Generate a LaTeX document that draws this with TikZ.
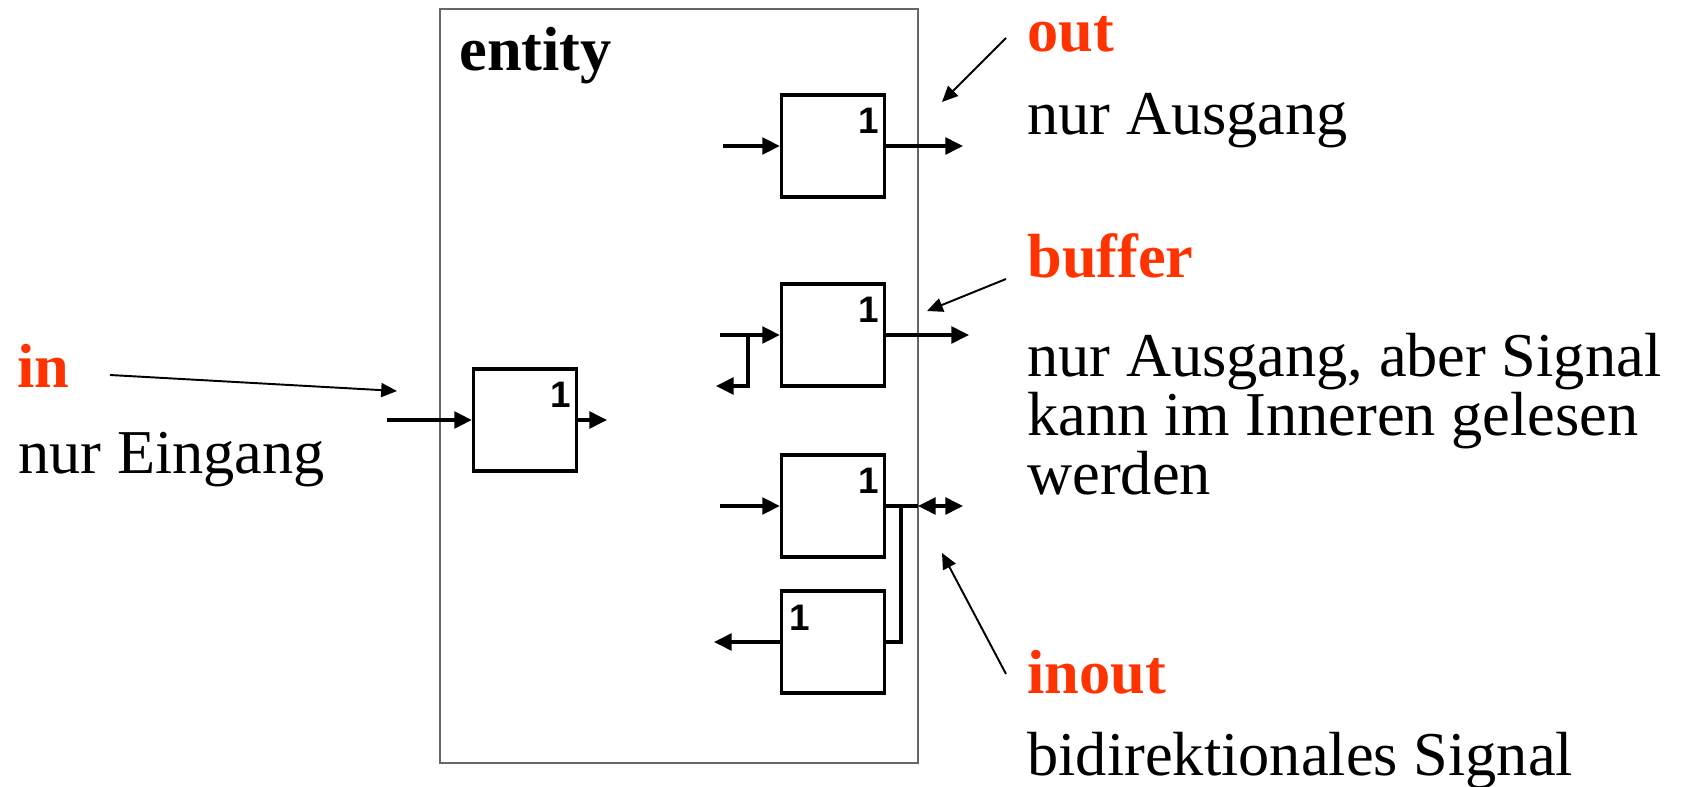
\documentclass[tikz,border=0pt]{standalone}
\usepackage{fontspec}
\setmainfont{Liberation Serif}
\newfontfamily\gatefont{Liberation Sans}
\usetikzlibrary{arrows.meta}
\definecolor{portred}{RGB}{255,51,0}

\begin{document}
\begin{tikzpicture}[x=0.02cm, y=-0.02cm, >={Triangle[length=10pt, width=9.5pt]},
  sig/.style={line width=1.9pt},
  note/.style={line width=1.1pt, -{Triangle[length=9pt, width=8pt]}},
  gate/.style={draw, line width=1.9pt, minimum width=2.06cm, minimum height=2.04cm, inner sep=0pt},
  numr/.style={font=\gatefont\bfseries\fontsize{21}{21}\selectfont, inner sep=0pt, anchor=north east, xshift=-3.6pt, yshift=-8pt},
  numl/.style={font=\gatefont\bfseries\fontsize{21}{21}\selectfont, inner sep=0pt, anchor=north west, xshift=5.4pt, yshift=-8.6pt},
  kw/.style={font=\bfseries\fontsize{35.5}{36}\selectfont, text=portred, inner sep=0pt, anchor=base west},
  txt/.style={font=\fontsize{35.5}{33.4}\selectfont, inner sep=0pt, anchor=base west, align=left}]
  \useasboundingbox (0,0) rectangle (1684,787);

  % entity
  \node[draw=black!60, line width=0.8pt, minimum width=9.56cm, minimum height=15.08cm, inner sep=0pt] (ent) at (679,386) {};
  \node[font=\bfseries\fontsize{35.5}{36}\selectfont, inner sep=0pt, anchor=base west] (entlbl) at (459,71) {entity};

  % gates
  \node[gate, label={[numr]north east:1}] (gin) at (525,420) {};
  \node[gate, label={[numr]north east:1}] (gout) at (833,146) {};
  \node[gate, label={[numr]north east:1}] (gbuf) at (833,335) {};
  \node[gate, label={[numr]north east:1}] (gio) at (833,506) {};
  \node[gate, label={[numl]north west:1}] (gio2) at (833,642) {};

  \coordinate (inport) at (387,420);
  \coordinate (inend) at (607,420);
  \coordinate (oin) at (723,146);
  \coordinate (oout) at (963,146);
  \coordinate (bufin) at (720,335);
  \coordinate (bufbr) at (748,335);
  \coordinate (bufback) at (716,386);
  \coordinate (bufout) at (969,335);
  \coordinate (ioin) at (720,506);
  \coordinate (iotap) at (901,506);
  \coordinate (ioport) at (918,506);
  \coordinate (ioout) at (963,506);
  \coordinate (io2out) at (714,642);

  \draw[sig, ->] (inport) -- (gin);
  \draw[sig, ->] (gin) -- (inend);
  \draw[sig, ->] (oin) -- (gout);
  \draw[sig, ->] (gout) -- (oout);
  \draw[sig, ->] (bufin) -- (gbuf);
  \draw[sig, ->] (bufbr) |- (bufback);
  \draw[sig, ->] (gbuf) -- (bufout);
  \draw[sig, ->] (ioin) -- (gio);
  \draw[sig] (gio) -- (ioport);
  \draw[sig, <->] (ioport) -- (ioout);
  \draw[sig] (iotap) |- (gio2);
  \draw[sig, ->] (gio2) -- (io2out);

  % labels
  \node[kw] (inlbl) at (17,387) {in};
  \node[txt] (indesc) at (18,473) {nur Eingang};
  \node[kw] (outlbl) at (1027,52) {out};
  \node[txt] (outdesc) at (1027,135) {nur Ausgang};
  \node[kw] (buflbl) at (1027,277) {buffer};
  \node[txt] (bufdesc) at (1027,494) {nur Ausgang, aber Signal\\kann im Inneren gelesen\\werden};
  \node[kw] (iolbl) at (1027,693) {inout};
  \node[txt] (iodesc) at (1027,775) {bidirektionales Signal};

  \coordinate (intail) at (110,375);
  \coordinate (intip) at (397,391);
  \coordinate (outtail) at (1006,38);
  \coordinate (outtip) at (942,102);
  \coordinate (buftail) at (1006,279);
  \coordinate (buftip) at (927,311);
  \coordinate (iotail) at (1006,674);
  \coordinate (iotip) at (942,553);
  \draw[note] (intail) -- (intip);
  \draw[note] (outtail) -- (outtip);
  \draw[note] (buftail) -- (buftip);
  \draw[note] (iotail) -- (iotip);
\end{tikzpicture}
\end{document}
